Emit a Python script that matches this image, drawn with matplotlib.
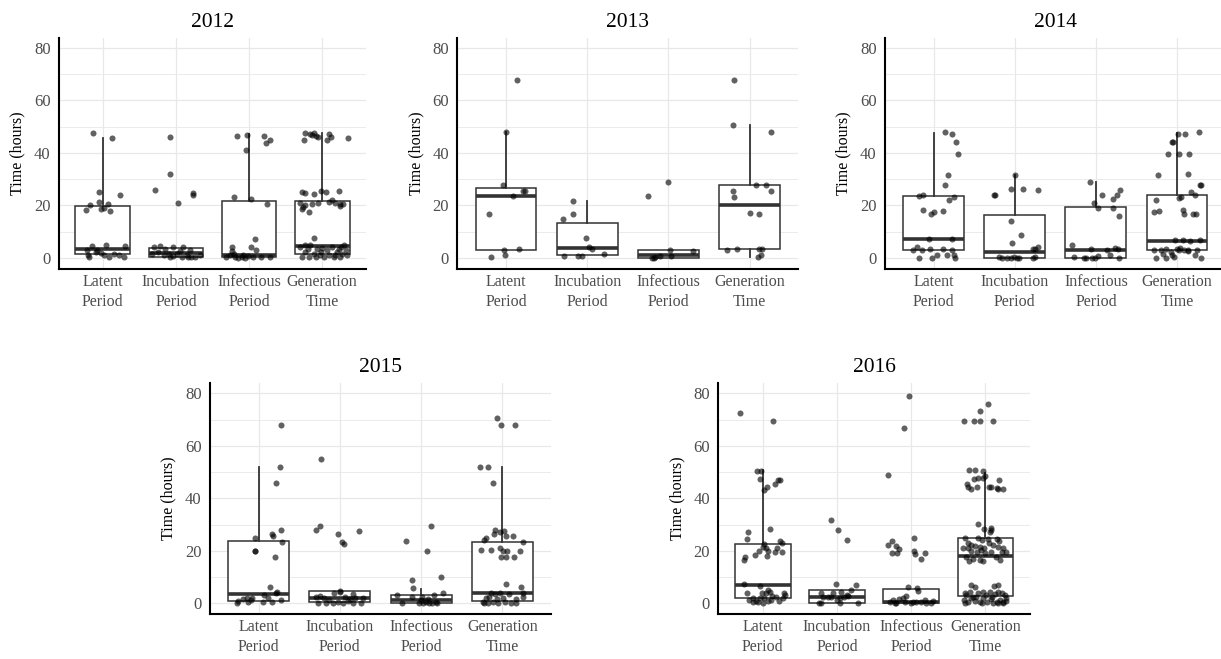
import matplotlib
matplotlib.use("Agg")
import matplotlib.pyplot as plt
from matplotlib.ticker import MultipleLocator

plt.rcParams['font.family'] = ['Liberation Serif', 'DejaVu Serif']

categories = ["Latent\nPeriod", "Incubation\nPeriod", "Infectious\nPeriod", "Generation\nTime"]
years = [2012, 2013, 2014, 2015, 2016]

# box statistics per year, one value per category (hours)
q1 = {2012: [1.5, 0.4, 0.2, 1.5], 2013: [3.2, 1.0, 0.0, 3.4], 2014: [3.2, 0.0, 0.0, 3.0],
      2015: [1.0, 0.5, 0.3, 0.9], 2016: [1.9, 0.2, 0.0, 2.9]}
med = {2012: [3.3, 2.0, 1.3, 4.6], 2013: [23.5, 3.9, 1.3, 20.3], 2014: [7.2, 2.3, 3.0, 6.4],
       2015: [3.5, 2.0, 1.3, 3.8], 2016: [7.0, 2.5, 0.5, 17.9]}
q3 = {2012: [19.8, 3.9, 21.6, 21.7], 2013: [26.7, 13.3, 3.0, 27.9], 2014: [23.5, 16.5, 19.3, 24.0],
      2015: [23.7, 4.5, 3.3, 23.4], 2016: [22.5, 4.9, 5.6, 24.8]}
whi_hi = {2012: [45.8, 3.9, 47.1, 47.6], 2013: [48.0, 21.6, 3.0, 50.5], 2014: [47.7, 31.7, 29.0, 47.7],
          2015: [52.0, 4.5, 5.3, 52.0], 2016: [50.8, 4.9, 5.6, 49.5]}
whi_lo = {2012: [1.5, 0.4, 0.2, 1.5], 2013: [3.2, 1.0, 0.0, 0.3], 2014: [3.2, 0.0, 0.0, 3.0],
          2015: [1.0, 0.5, 0.3, 0.9], 2016: [1.9, 0.2, 0.0, 2.9]}

pts_2012 = [
    [(-0.14, 47.6), (0.12, 45.7), (-0.23, 18.4), (-0.17, 20.2), (-0.05, 21.3), (-0.05, 25.1), (-0.03, 18.8),
     (0.01, 19.2), (0.07, 20.7), (0.10, 17.8), (0.23, 24.1), (-0.20, 1.3), (-0.19, 0.4), (-0.15, 4.6),
     (-0.10, 2.3), (-0.03, 1.9), (0.04, 5.1), (0.01, 1.0), (0.08, 0.4), (0.15, 1.7), (0.22, 1.0),
     (0.29, 0.4), (0.30, 4.6), (-0.22, 2.9), (-0.08, 2.9)],
    [(-0.08, 46.1), (-0.08, 31.9), (-0.29, 25.8), (0.03, 21.0), (0.24, 24.8), (0.24, 23.9), (-0.30, 4.2),
     (-0.22, 4.4), (-0.15, 3.6), (-0.10, 1.7), (-0.04, 4.2), (0.10, 4.2), (-0.24, 2.3), (-0.17, 1.0),
     (-0.08, 0.4), (0.01, 1.7), (0.08, 0.4), (0.15, 1.0), (0.19, 3.2), (0.26, 0.4), (0.33, 1.0),
     (-0.33, 1.7), (0.05, 2.7), (0.21, 0.4), (-0.04, 0.6), (0.17, 0.4)],
    [(-0.16, 46.3), (-0.03, 46.7), (-0.04, 41.3), (0.21, 46.3), (0.23, 43.8), (0.29, 45.1), (-0.21, 23.2),
     (0.03, 22.5), (0.24, 20.4), (0.08, 7.2), (0.02, 4.2), (0.10, 2.9), (-0.24, 4.2), (-0.23, 2.7),
     (-0.31, 0.4), (-0.26, 1.0), (-0.19, 0.4), (-0.15, 0.1), (-0.10, 0.4), (-0.05, 0.1), (-0.01, 0.6),
     (0.06, 0.4), (0.17, 0.4), (0.29, 0.4), (-0.21, 1.7), (-0.08, 1.0)],
    [(-0.24, 47.6), (-0.17, 47.4), (-0.14, 47.0), (-0.09, 46.3), (-0.05, 46.1), (-0.11, 47.6), (0.09, 47.4),
     (0.12, 46.1), (0.36, 45.7), (-0.25, 45.1), (0.07, 45.1), (-0.28, 25.1), (-0.24, 24.8), (-0.11, 24.3),
     (-0.02, 25.5), (0.05, 25.1), (0.23, 25.4), (-0.30, 20.8), (-0.26, 19.4), (-0.23, 20.2), (-0.18, 17.5),
     (-0.14, 20.4), (-0.05, 21.0), (0.09, 21.3), (0.14, 22.0), (0.18, 21.0), (0.24, 20.4), (0.29, 20.4),
     (0.25, 19.7), (-0.27, 18.8), (-0.11, 7.7), (-0.30, 4.2), (-0.27, 0.4), (-0.24, 2.3), (-0.20, 3.6),
     (-0.18, 0.4), (-0.11, 1.7), (-0.07, 3.6), (-0.03, 1.0), (0.00, 3.9), (0.03, 0.4), (0.07, 3.2),
     (0.10, 1.0), (0.14, 4.2), (0.16, 0.4), (0.21, 2.3), (0.23, 3.6), (0.25, 0.4), (0.27, 1.7),
     (0.30, 4.8), (0.32, 2.9), (0.34, 1.0), (-0.09, 0.4), (-0.02, 2.3), (0.18, 1.0), (-0.23, 4.8),
     (0.26, 4.2), (-0.16, 4.8)],
]
pts_2013 = [
    [(0.14, 67.7), (0.00, 48.0), (-0.04, 27.7), (0.09, 23.5), (0.21, 25.4), (0.23, 25.4), (-0.21, 16.9),
     (-0.19, 0.3), (-0.02, 2.9), (-0.01, 1.0), (0.16, 3.4)],
    [(-0.18, 21.7), (-0.17, 16.6), (-0.30, 15.0), (-0.01, 7.6), (0.02, 4.2), (0.06, 3.3), (0.21, 1.4),
     (-0.28, 0.6), (-0.11, 0.6), (-0.07, 0.9)],
    [(-0.25, 23.7), (-0.01, 28.8), (0.02, 3.2), (0.30, 2.7), (-0.20, 0.0), (-0.16, 0.4), (-0.10, 0.9),
     (0.03, 0.9), (-0.18, 0.0)],
    [(-0.19, 67.7), (-0.21, 50.5), (0.26, 47.9), (-0.21, 25.4), (-0.19, 23.2), (0.08, 27.7), (0.20, 27.7),
     (0.26, 25.4), (0.01, 17.3), (0.11, 16.9), (-0.28, 2.9), (-0.16, 3.4), (0.11, 3.4), (0.15, 3.4),
     (0.10, 0.3), (0.14, 1.0)],
]
pts_2014 = [
    [(0.14, 48.0), (0.23, 47.1), (0.27, 44.3), (0.30, 39.5), (0.18, 31.5), (0.14, 27.9), (0.25, 23.1),
     (0.19, 22.2), (-0.18, 23.5), (-0.13, 23.9), (-0.13, 18.2), (-0.03, 16.9), (0.01, 17.5), (0.12, 17.8),
     (-0.06, 7.2), (0.23, 7.1), (-0.21, 4.2), (-0.14, 2.9), (-0.04, 3.3), (0.12, 3.6), (0.23, 3.2),
     (0.16, 1.0), (0.25, 1.0), (0.26, 0.1), (0.04, 1.0), (-0.02, 0.1), (-0.18, 0.0), (-0.25, 3.2)],
    [(0.00, 31.7), (-0.26, 23.9), (-0.25, 23.9), (-0.05, 26.2), (0.10, 26.4), (0.28, 26.0), (-0.05, 14.2),
     (0.08, 8.9), (-0.03, 5.7), (0.22, 3.6), (0.25, 3.6), (0.29, 4.2), (-0.20, 0.4), (-0.16, 0.1),
     (-0.05, 0.0), (-0.01, 0.4), (0.03, 0.1), (0.05, 0.0), (0.23, 0.0), (0.25, 0.4), (-0.09, 0.0)],
    [(-0.07, 29.0), (-0.02, 21.1), (0.07, 23.9), (0.02, 19.2), (0.21, 22.6), (0.26, 23.9), (0.30, 26.0),
     (0.21, 19.2), (0.29, 16.1), (-0.30, 5.1), (-0.27, 0.4), (-0.15, 0.0), (-0.12, 0.0), (-0.05, 0.0),
     (-0.01, 0.0), (0.03, 0.6), (-0.06, 3.4), (0.14, 3.2), (0.17, 1.0), (0.24, 3.9), (0.27, 3.6),
     (0.29, 0.0)],
    [(-0.06, 44.3), (-0.05, 44.3), (0.01, 47.4), (0.10, 47.1), (0.27, 47.9), (-0.11, 39.5), (0.02, 39.7),
     (0.15, 39.5), (-0.24, 31.5), (0.13, 32.1), (-0.26, 22.2), (0.02, 23.0), (0.05, 23.2), (0.17, 25.1),
     (0.22, 23.9), (0.28, 27.8), (0.30, 27.8), (-0.29, 17.5), (-0.22, 17.8), (0.07, 18.2), (0.09, 16.6),
     (0.20, 16.6), (0.24, 16.6), (-0.29, 3.2), (-0.26, 0.0), (-0.20, 2.9), (-0.17, 1.7), (-0.14, 0.0),
     (-0.13, 3.6), (-0.08, 2.3), (-0.06, 1.0), (-0.02, 7.0), (0.00, 3.6), (0.04, 3.9), (0.07, 7.0),
     (0.09, 2.9), (0.13, 3.2), (0.16, 6.5), (0.22, 1.0), (0.25, 3.2), (0.28, 7.0), (0.30, 0.0),
     (-0.04, 0.4), (0.02, 2.9), (0.14, 2.7)],
]
pts_2015 = [
    [(0.28, 67.9), (0.26, 52.1), (0.21, 45.7), (0.28, 27.9), (0.16, 26.3), (0.18, 25.8), (0.29, 23.2),
     (-0.04, 24.8), (-0.05, 20.1), (-0.04, 20.1), (0.20, 17.7), (0.14, 6.1), (0.07, 3.2), (0.21, 3.8),
     (0.23, 4.4), (0.11, 1.9), (-0.15, 2.2), (-0.09, 1.3), (-0.25, 0.9), (-0.27, 0.0), (-0.19, 1.5),
     (-0.13, 0.6), (0.05, 0.6), (0.16, 0.4), (0.27, 1.3), (-0.08, 1.9)],
    [(-0.23, 55.0), (-0.25, 29.6), (-0.30, 27.8), (0.23, 27.6), (-0.02, 26.4), (0.03, 23.4), (0.05, 22.6),
     (0.00, 4.8), (0.00, 4.4), (-0.07, 3.8), (0.16, 3.4), (-0.29, 2.5), (-0.24, 2.8), (-0.19, 1.9),
     (-0.13, 1.3), (0.06, 2.3), (0.12, 1.5), (0.18, 1.9), (0.28, 1.9), (-0.27, 0.3), (-0.17, 0.3),
     (-0.09, 0.3), (-0.02, 0.5), (0.04, 0.3), (0.16, 0.3), (0.26, 0.0), (0.10, 1.0)],
    [(0.12, 29.6), (-0.18, 23.7), (0.07, 20.1), (0.25, 10.2), (-0.11, 8.9), (-0.10, 5.7), (-0.30, 3.2),
     (-0.11, 2.5), (0.01, 2.5), (0.16, 3.2), (0.27, 4.1), (-0.23, 0.3), (-0.02, 0.3), (0.02, 0.3),
     (0.06, 0.6), (0.10, 0.0), (0.14, 0.3), (0.18, 0.6), (0.20, 0.0), (0.00, 1.3), (0.08, 1.5)],
    [(-0.07, 70.7), (-0.01, 67.9), (0.16, 67.9), (-0.27, 52.1), (-0.18, 52.1), (-0.11, 45.7), (-0.09, 27.9),
     (-0.10, 26.3), (-0.03, 27.0), (0.02, 27.6), (0.05, 25.8), (0.13, 25.8), (-0.20, 24.8), (-0.22, 24.1),
     (0.26, 23.2), (-0.26, 20.3), (-0.14, 20.3), (-0.03, 21.0), (0.01, 20.1), (0.06, 20.1), (0.22, 20.1),
     (-0.01, 17.7), (0.05, 17.7), (0.15, 17.7), (0.04, 7.4), (0.23, 6.2), (-0.14, 3.8), (-0.09, 3.6),
     (-0.03, 3.8), (0.08, 3.4), (0.25, 3.8), (0.26, 2.3), (-0.20, 1.9), (-0.16, 2.5), (-0.07, 1.5),
     (0.01, 1.9), (0.17, 1.5), (-0.22, 0.3), (-0.18, 0.0), (-0.05, 0.3), (0.03, 0.6), (0.11, 0.3),
     (0.17, 0.3), (-0.24, 0.6), (-0.11, 0.6)],
]
pts_2016 = [
    [(-0.31, 72.4), (0.14, 69.6), (-0.08, 50.5), (-0.02, 50.5), (-0.04, 47.4), (0.02, 43.2), (0.05, 44.4),
     (0.17, 45.3), (0.20, 47.0), (0.23, 47.0), (0.09, 28.2), (-0.20, 27.3), (-0.21, 24.6), (0.23, 23.9),
     (0.26, 22.9), (0.02, 22.5), (0.00, 21.6), (0.04, 21.2), (0.19, 21.0), (-0.05, 20.1), (0.07, 20.1),
     (0.17, 19.7), (0.26, 19.7), (-0.24, 17.8), (-0.26, 16.5), (-0.11, 18.3), (0.05, 17.9), (-0.26, 7.2),
     (-0.04, 6.7), (-0.22, 3.8), (-0.01, 4.1), (0.04, 4.1), (0.07, 5.1), (0.10, 4.3), (0.13, 2.8),
     (0.18, 2.5), (0.28, 3.8), (0.30, 3.0), (-0.18, 1.3), (-0.13, 1.9), (-0.09, 1.0), (-0.07, 0.4),
     (0.00, 0.3), (0.07, 1.0), (0.11, 1.3), (0.22, 1.0), (0.27, 1.9), (-0.13, 0.4), (-0.04, 2.2),
     (0.02, 1.9)],
    [(-0.08, 31.7), (0.01, 27.9), (0.13, 24.1), (-0.01, 7.4), (0.25, 7.0), (0.19, 5.1), (-0.06, 4.1),
     (0.06, 4.3), (0.13, 3.2), (-0.21, 3.8), (-0.24, 0.3), (-0.22, 0.3), (-0.19, 2.5), (-0.12, 2.3),
     (-0.08, 2.5), (0.04, 1.9), (0.10, 2.3), (0.15, 2.8), (0.04, 0.3), (0.28, 0.3), (0.00, 1.3)],
    [(-0.03, 79.1), (-0.10, 66.7), (-0.31, 48.9), (-0.31, 22.2), (-0.26, 23.9), (-0.21, 21.8), (-0.16, 20.7),
     (-0.26, 19.3), (-0.19, 19.3), (0.04, 25.0), (0.04, 20.1), (0.05, 18.8), (0.18, 19.3), (0.13, 16.8),
     (-0.04, 6.3), (0.08, 5.7), (0.09, 4.8), (-0.07, 2.9), (-0.11, 1.9), (-0.17, 1.5), (-0.25, 1.3),
     (-0.29, 0.4), (-0.20, 0.3), (-0.09, 0.5), (0.00, 0.3), (0.07, 0.4), (0.13, 0.6), (0.20, 0.3),
     (0.27, 0.3), (0.29, 1.0), (0.18, 1.3), (0.02, 0.6), (-0.22, 0.0)],
    [(0.03, 75.9), (-0.07, 73.3), (-0.29, 69.6), (-0.16, 69.6), (-0.07, 69.6), (0.10, 69.6), (-0.22, 50.8),
     (-0.14, 50.8), (-0.04, 50.5), (-0.01, 48.6), (-0.16, 47.4), (-0.10, 47.9), (-0.03, 47.6), (0.18, 47.0),
     (-0.25, 45.3), (-0.23, 44.4), (-0.19, 43.4), (-0.11, 44.4), (0.05, 44.4), (0.08, 44.4), (0.15, 44.0),
     (0.17, 43.6), (0.23, 43.4), (-0.10, 30.1), (-0.02, 28.2), (0.07, 28.6), (0.08, 27.9), (0.06, 27.0),
     (-0.28, 24.8), (-0.10, 24.8), (-0.05, 24.1), (0.04, 24.4), (0.15, 24.4), (0.18, 23.9), (-0.24, 22.9),
     (-0.19, 22.2), (-0.14, 21.8), (-0.08, 21.6), (-0.02, 21.2), (0.05, 22.9), (0.10, 22.2), (0.17, 21.6),
     (0.24, 21.0), (-0.30, 21.0), (-0.23, 21.0), (-0.19, 20.1), (-0.12, 19.7), (-0.06, 20.3), (-0.01, 19.3),
     (0.07, 19.7), (0.22, 19.7), (0.28, 19.7), (-0.26, 17.8), (-0.17, 16.8), (-0.08, 16.5), (-0.03, 16.1),
     (0.20, 16.5), (-0.22, 16.1), (0.14, 17.8), (-0.19, 7.0), (-0.14, 6.3), (0.17, 7.0), (0.12, 6.6),
     (-0.28, 3.8), (-0.26, 3.2), (-0.21, 4.4), (-0.17, 2.5), (-0.10, 3.8), (-0.04, 4.4), (0.01, 3.2),
     (0.06, 4.4), (0.13, 3.6), (0.17, 4.4), (0.22, 3.8), (0.26, 3.2), (0.27, 1.9), (-0.29, 1.3),
     (-0.23, 0.6), (-0.19, 1.9), (-0.14, 1.0), (-0.08, 0.6), (-0.03, 1.9), (0.02, 0.6), (0.08, 1.5),
     (0.15, 0.6), (0.19, 1.3), (0.24, 0.6), (0.28, 1.0), (-0.27, 0.3), (-0.05, 0.3), (0.10, 0.3),
     (0.23, 0.3), (0.17, 0.3), (-0.13, 2.5), (0.09, 2.5)],
]
points = {2012: pts_2012, 2013: pts_2013, 2014: pts_2014, 2015: pts_2015, 2016: pts_2016}

# panel placement in pixels: left, right, top, bottom
W, H = 1221, 659
layout = {
    2012: (59, 366, 38, 268.5),
    2013: (457.3, 798.3, 38, 268.5),
    2014: (885, 1225.7, 38, 268.5),
    2015: (210, 551, 383.3, 613.8),
    2016: (718.3, 1030, 383.3, 613.8),
}

box_col = '#333333'
grid_col = '#E8E8E8'

fig = plt.figure(figsize=(W / 100, H / 100), dpi=100)

for yr in years:
    l, r, t, b = layout[yr]
    ax = fig.add_axes([l / W, (H - b) / H, (r - l) / W, (b - t) / H])
    pos = [1, 2, 3, 4]

    stats = []
    for i in range(4):
        stats.append(dict(med=med[yr][i], q1=q1[yr][i], q3=q3[yr][i],
                          whislo=whi_lo[yr][i], whishi=whi_hi[yr][i], fliers=[]))
    ax.bxp(stats, positions=pos, widths=0.75, showfliers=False, showcaps=False,
           patch_artist=True,
           boxprops=dict(facecolor='white', edgecolor=box_col, linewidth=1.1),
           medianprops=dict(color=box_col, linewidth=2.6, solid_capstyle='butt'),
           whiskerprops=dict(color=box_col, linewidth=1.3),
           zorder=2)

    for i, grp in enumerate(points[yr]):
        xs = [pos[i] + d for d, v in grp]
        ys = [v for d, v in grp]
        ax.scatter(xs, ys, s=19, color='black', alpha=0.62, linewidths=0, zorder=3)

    ax.set_xlim(0.4, 4.6)
    ax.set_ylim(-4, 83.8)
    ax.set_xticks(pos)
    ax.set_xticklabels(categories, linespacing=1.3)
    ax.yaxis.set_major_locator(MultipleLocator(20))
    ax.yaxis.set_minor_locator(MultipleLocator(10))
    ax.grid(True, which='major', color=grid_col, linewidth=0.9, zorder=0)
    ax.grid(True, which='minor', axis='y', color=grid_col, linewidth=0.6, zorder=0)
    ax.set_axisbelow(True)
    ax.tick_params(which='both', length=0)
    ax.tick_params(axis='x', pad=4, labelsize=11.5, labelcolor='#4D4D4D')
    ax.tick_params(axis='y', pad=6, labelsize=12, labelcolor='#4D4D4D')
    for s in ['top', 'right']:
        ax.spines[s].set_visible(False)
    for s in ['left', 'bottom']:
        ax.spines[s].set_linewidth(1.5)
        ax.spines[s].set_color('black')
    ax.set_ylabel("Time (hours)", fontsize=11.5, labelpad=6)
    ax.set_title(str(yr), fontsize=15.5, pad=8)

fig.savefig("out.png", dpi=100)
